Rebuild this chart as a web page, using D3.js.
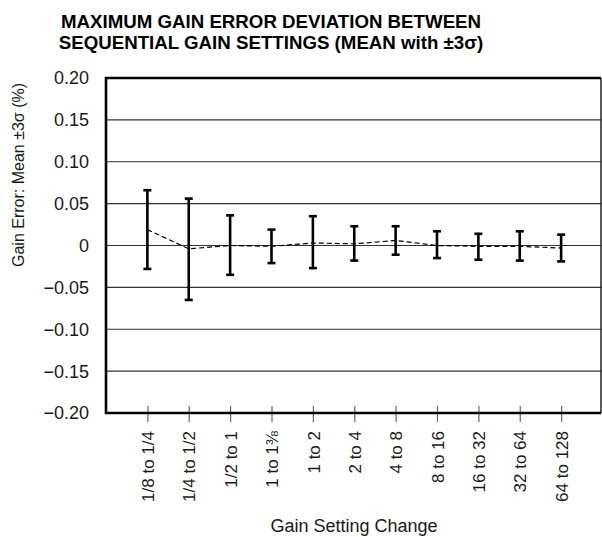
<!DOCTYPE html>
<html>
<head>
<meta charset="utf-8">
<script src="https://cdn.jsdelivr.net/npm/d3@7"></script>
<style>
  html, body { margin: 0; padding: 0; background: #fff; }
  svg { display: block; font-family: "Liberation Sans", Arial, Helvetica, sans-serif; }
</style>
</head>
<body>
<svg id="chart" width="602" height="537"></svg>
<script>
const titleLines = ["MAXIMUM GAIN ERROR DEVIATION BETWEEN", "SEQUENTIAL GAIN SETTINGS (MEAN with \u00B13\u03C3)"];
const categories = ["1/8 to 1/4", "1/4 to 1/2", "1/2 to 1", "1 to 1\u215C", "1 to 2", "2 to 4", "4 to 8", "8 to 16", "16 to 32", "32 to 64", "64 to 128"];
const meanValues = [0.019, -0.004, 0.000, -0.001, 0.003, 0.002, 0.006, 0.000, -0.001, -0.001, -0.003];
const upperValues = [0.066, 0.056, 0.036, 0.019, 0.035, 0.023, 0.023, 0.017, 0.014, 0.017, 0.013];
const lowerValues = [-0.028, -0.065, -0.035, -0.021, -0.027, -0.018, -0.011, -0.015, -0.017, -0.018, -0.019];
const yTickValues = [0.20, 0.15, 0.10, 0.05, 0, -0.05, -0.10, -0.15, -0.20];
const yTickLabels = ["0.20", "0.15", "0.10", "0.05", "0", "\u22120.05", "\u22120.10", "\u22120.15", "\u22120.20"];
const xAxisTitle = "Gain Setting Change";
const yAxisTitle = "Gain Error: Mean \u00B13\u03C3 (%)";

const svg = d3.select("#chart");
const pLeft = 106, pRight = 601, pTop = 78, pBottom = 413;

const x = d3.scalePoint().domain(categories).range([pLeft, pRight + 1.5]).padding(1);
const y = d3.scaleLinear().domain([-0.2, 0.2]).range([pBottom, pTop]);

// Title
svg.append("g").selectAll("text").data(titleLines).join("text")
  .attr("x", 271).attr("y", (d, i) => 28 + i * 21)
  .attr("text-anchor", "middle").attr("font-weight", "bold").attr("font-size", "18.7px")
  .attr("fill", "#000").text(d => d);

// Gridlines
svg.append("g").selectAll("line").data(yTickValues.filter(v => v > -0.2 && v < 0.2)).join("line")
  .attr("x1", pLeft).attr("x2", pRight).attr("y1", d => y(d)).attr("y2", d => y(d))
  .attr("stroke", "#333").attr("stroke-width", 1.1);

// Y tick labels
svg.append("g").selectAll("text").data(yTickValues).join("text")
  .attr("x", 89).attr("y", d => y(d)).attr("dy", "0.36em")
  .attr("text-anchor", "end").attr("font-size", "18px").attr("fill", "#1a1a1a")
  .text((d, i) => yTickLabels[i]);

// X axis ticks
const xAxis = d3.axisBottom(x).tickSize(0).tickFormat("");
const gx = svg.append("g").attr("transform", `translate(0,${pBottom})`).call(xAxis);
gx.select(".domain").remove();
gx.selectAll(".tick line").remove();
gx.selectAll(".tick").append("line")
  .attr("y1", -7).attr("y2", 9).attr("stroke", "#666").attr("stroke-width", 1.2);
gx.selectAll(".tick").append("text")
  .attr("transform", "rotate(-90)")
  .attr("x", -18).attr("y", 0).attr("dy", "0.36em")
  .attr("text-anchor", "end").attr("font-size", "17px").attr("fill", "#1a1a1a")
  .text(d => d);

// Frame
svg.append("line").attr("x1", pRight).attr("x2", pRight).attr("y1", pTop).attr("y2", pBottom)
  .attr("stroke", "#000").attr("stroke-width", 1.3);
svg.append("path")
  .attr("d", `M${pRight},${pTop}H${pLeft}V${pBottom}H${pRight}`)
  .attr("fill", "none").attr("stroke", "#000").attr("stroke-width", 2.6);

// Mean dashed line
const line = d3.line().x((d, i) => x(categories[i])).y(d => y(d));
svg.append("path").datum(meanValues).attr("d", line)
  .attr("fill", "none").attr("stroke", "#000").attr("stroke-width", 1.2)
  .attr("stroke-dasharray", "5,3");

// Error bars
const eb = svg.append("g").selectAll("g").data(categories).join("g");
eb.append("line")
  .attr("x1", d => x(d)).attr("x2", d => x(d))
  .attr("y1", (d, i) => y(upperValues[i])).attr("y2", (d, i) => y(lowerValues[i]))
  .attr("stroke", "#000").attr("stroke-width", 2.6);
eb.append("line")
  .attr("x1", d => x(d) - 4).attr("x2", d => x(d) + 4)
  .attr("y1", (d, i) => y(upperValues[i])).attr("y2", (d, i) => y(upperValues[i]))
  .attr("stroke", "#000").attr("stroke-width", 2.6);
eb.append("line")
  .attr("x1", d => x(d) - 4).attr("x2", d => x(d) + 4)
  .attr("y1", (d, i) => y(lowerValues[i])).attr("y2", (d, i) => y(lowerValues[i]))
  .attr("stroke", "#000").attr("stroke-width", 2.6);

// Axis titles
svg.append("text").attr("x", 354).attr("y", 532).attr("text-anchor", "middle")
  .attr("font-size", "18px").attr("fill", "#1a1a1a").text(xAxisTitle);
svg.append("text").attr("transform", "translate(24,175) rotate(-90)")
  .attr("text-anchor", "middle").attr("font-size", "16px").attr("fill", "#1a1a1a").text(yAxisTitle);
</script>
</body>
</html>
